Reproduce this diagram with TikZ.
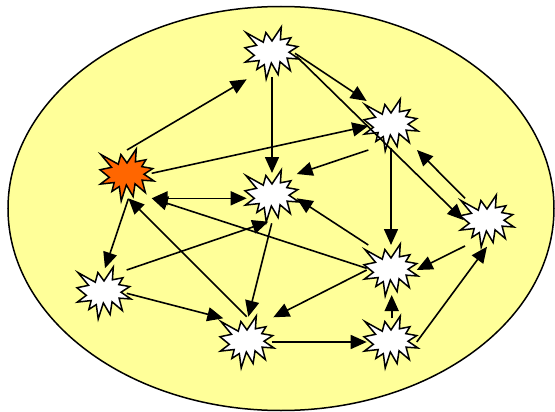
\documentclass[tikz,border=0pt]{standalone}
\usetikzlibrary{arrows.meta,calc}
\definecolor{bgyellow}{RGB}{255,255,153}
\definecolor{hotorange}{RGB}{255,102,0}
\tikzset{
  hub/.style={inner sep=0pt, minimum size=0pt},
  link/.style={line width=1.6pt, -{Triangle[length=16pt,width=14pt]}},
  twolink/.style={line width=1.6pt, {Triangle[length=16pt,width=14pt]}-{Triangle[length=16pt,width=14pt]}},
  seal/.pic={
    \filldraw[line width=1.5pt, line join=miter, fill=#1]
      (0,-12.04) -- (9.30,-26) -- (8.39,-13.18) -- (18.95,-15.27) -- (14.75,-8.39)
      -- (25.74,-6.41) -- (17.02,-0.78) -- (27,6.0) -- (15.09,5.16) -- (18.36,17.56)
      -- (8.05,8.80) -- (6.12,21.51) -- (-0.67,9.95) -- (-5.79,26) -- (-7.71,11.62)
      -- (-15.09,16.41) -- (-12.83,7.55) -- (-26.66,9.12) -- (-17.70,2.35) -- (-27,-5.26)
      -- (-15.43,-7.66) -- (-26.08,-20.47) -- (-8.72,-10.79) -- (-6.12,-20.47) -- cycle;
  }
}
\begin{document}
\begin{tikzpicture}[x=1pt,y=-1pt]
\useasboundingbox (0,0) rectangle (555,412);
\fill[white] (0,0) rectangle (555,412);
\draw[line width=1.5pt, fill=bgyellow] (281,208.5) ellipse [x radius=273pt, y radius=202pt];

\node[hub] (A) at (272,53) {};
\node[hub] (B) at (391,125) {};
\node[hub] (O) at (127,175) {};
\node[hub] (C) at (272,196) {};
\node[hub] (D) at (487,221) {};
\node[hub] (E) at (391,270) {};
\node[hub] (F) at (104,293) {};
\node[hub] (G) at (247,342) {};
\node[hub] (H) at (391,342) {};

\pic at (A) {seal=white};
\pic at (B) {seal=white};
\pic at (O) {seal=hotorange};
\pic at (C) {seal=white};
\pic at (D) {seal=white};
\pic at (E) {seal=white};
\pic at (F) {seal=white};
\pic at (G) {seal=white};
\pic at (H) {seal=white};

\draw[link] ($(O)+(0,-25)$) -- ($(A)+(-25.3,26.3)$);
\draw[link] ($(A)+(0,24)$) -- ($(C)+(0,-23)$);
\draw[link] ($(A)+(23,0.3)$) -- ($(B)+(-24.3,-24)$);
\draw[link] ($(A)+(24.7,3.7)$) -- ($(D)+(-23.7,-1)$);
\draw[link] ($(O)+(24.7,-1.7)$) -- ($(B)+(-22.7,1)$);
\draw[link] ($(B)+(-22.7,25)$) -- ($(C)+(24.7,-22)$);
\draw[link] ($(B)+(0,23)$) -- ($(E)+(0,-25)$);
\draw[link] ($(D)+(-22,-22.7)$) -- ($(B)+(26,25)$);
\draw[twolink] ($(O)+(24.7,23.3)$) -- ($(C)+(-25.3,2.3)$);
\draw[link] ($(E)+(-24.3,-1.7)$) -- ($(O)+(24.7,23.3)$);
\draw[link] ($(E)+(-22.7,-25)$) -- ($(C)+(24.7,2.3)$);
\draw[link] ($(G)+(-0.3,-25.3)$) -- ($(O)+(1.3,23.3)$);
\draw[link] ($(O)+(1.3,24)$) -- ($(F)+(1,-24.7)$);
\draw[link] ($(F)+(22.7,-23)$) -- ($(C)+(-3.7,25.7)$);
\draw[link] ($(C)+(-0.3,27.3)$) -- ($(G)+(1.3,-25.3)$);
\draw[link] ($(F)+(22.7,0.3)$) -- ($(G)+(-23.7,-23.7)$);
\draw[link] ($(E)+(-24.3,0)$) -- ($(G)+(26.3,-24.7)$);
\draw[link] ($(G)+(24.7,0)$) -- ($(H)+(-24.3,0)$);
\draw[link] ($(H)+(0.7,-23.7)$) -- ($(E)+(0.7,25)$);
\draw[link] ($(H)+(25.7,0)$) -- ($(D)+(0,25.7)$);
\draw[link] ($(D)+(-22,25)$) -- ($(E)+(25.7,0)$);
\end{tikzpicture}
\end{document}
